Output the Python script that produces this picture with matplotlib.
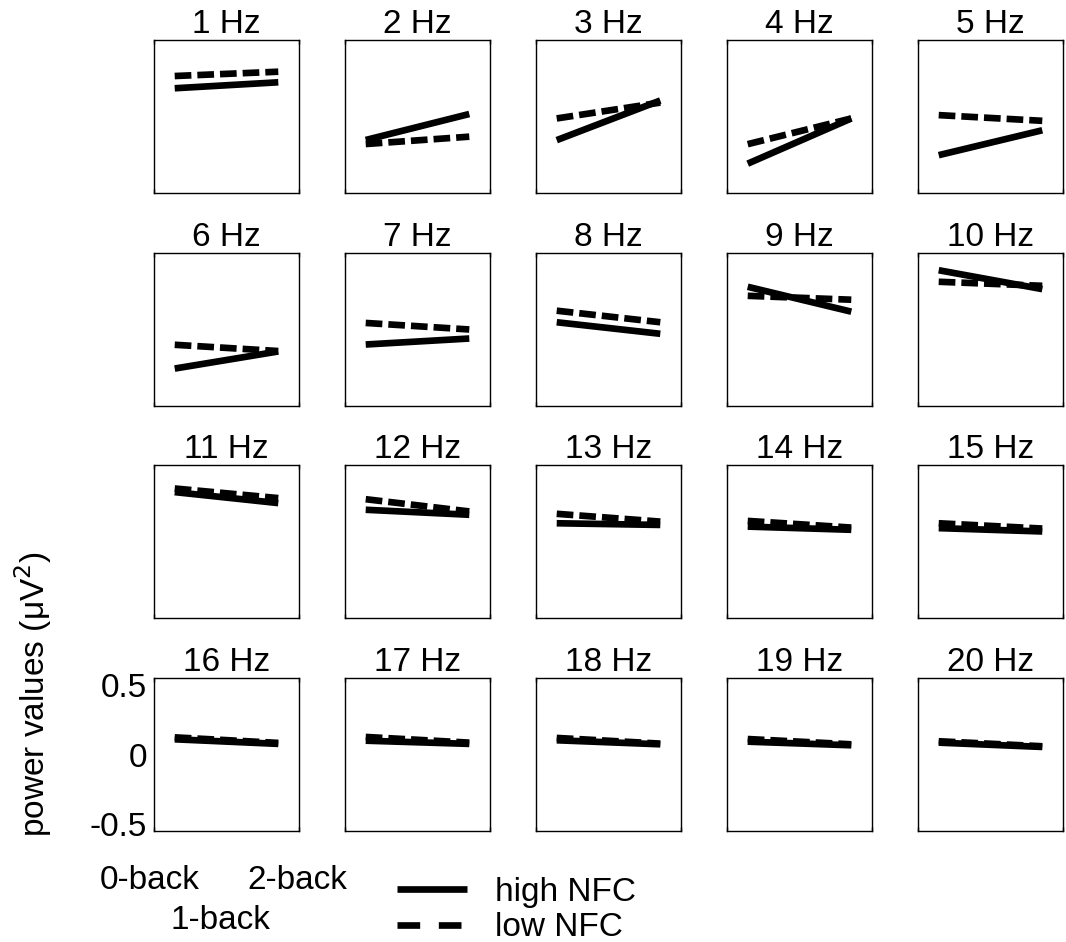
import matplotlib
matplotlib.use("Agg")
import matplotlib.pyplot as plt
from matplotlib.lines import Line2D

plt.rcParams['font.family'] = ['Liberation Sans', 'DejaVu Sans']

# ---------------- data ----------------
freqs = list(range(1, 21))
conditions = ['0-back', '1-back', '2-back']

high_0back = [0.203, -0.169, -0.170, -0.339, -0.278,
              -0.283, -0.110, 0.050, 0.305, 0.424,
              0.358, 0.231, 0.134, 0.110, 0.099,
              0.110, 0.100, 0.103, 0.093, 0.086]
high_2back = [0.246, 0.018, 0.115, -0.014, -0.099,
              -0.160, -0.067, -0.033, 0.126, 0.288,
              0.279, 0.195, 0.122, 0.087, 0.075,
              0.077, 0.077, 0.074, 0.067, 0.055]
low_0back = [0.291, -0.198, -0.014, -0.199, 0.010,
             -0.112, 0.045, 0.133, 0.240, 0.341,
             0.384, 0.307, 0.202, 0.151, 0.134,
             0.124, 0.127, 0.120, 0.112, 0.096]
low_2back = [0.322, -0.145, 0.100, -0.014, -0.031,
             -0.157, -0.002, 0.050, 0.212, 0.312,
             0.315, 0.219, 0.146, 0.103, 0.096,
             0.084, 0.086, 0.079, 0.074, 0.060]

ytick_vals = [-0.5, 0, 0.5]
ytick_labels = ['-0.5', '0', '0.5']
legend_labels = ['high NFC', 'low NFC']

# ---------------- layout ----------------
W, H = 1066, 942
fig = plt.figure(figsize=(W / 100, H / 100), dpi=100)
FS = 24
LW = 4.8
ax_w, ax_h = 145, 153
x_idx = [conditions.index('0-back'), conditions.index('2-back')]

for i, f in enumerate(freqs):
    r, c = divmod(i, 5)
    left = 154 + 191 * c
    top = 40 + 212.7 * r
    ax = fig.add_axes([left / W, 1 - (top + ax_h) / H, ax_w / W, ax_h / H])
    ax.plot(x_idx, [high_0back[i], high_2back[i]], color='black', lw=LW,
            solid_capstyle='butt')
    ax.plot(x_idx, [low_0back[i], low_2back[i]], color='black', lw=LW,
            linestyle=(0, (2.5, 0.9)), dash_capstyle='butt')
    ax.set_xlim(-0.4, 2.4)
    ax.set_ylim(-0.55, 0.55)
    ax.set_title(f'{f} Hz', fontsize=FS, pad=2)
    for s in ax.spines.values():
        s.set_linewidth(1.0)
    ax.set_xticks([-0.4, 2.4])
    ax.tick_params(axis='x', direction='in', length=3, width=1,
                   top=True, labelbottom=False)
    if i == 15:
        ax.set_yticks(ytick_vals)
        ax.set_yticklabels(ytick_labels, fontsize=FS)
        ax.tick_params(axis='y', length=0, pad=5)
    else:
        ax.set_yticks([])

# condition labels under the bottom-left panel
fig.text(150 / W, 1 - 889 / H, conditions[0], fontsize=FS, ha='center', va='baseline')
fig.text(297 / W, 1 - 889 / H, conditions[2], fontsize=FS, ha='center', va='baseline')
fig.text(220 / W, 1 - 929 / H, conditions[1], fontsize=FS, ha='center', va='baseline')

# y label
fig.text(33 / W, 1 - 694 / H, 'power values (μV$^2$)', fontsize=FS, rotation=90,
         ha='center', va='center')

# legend
handles = [Line2D([], [], color='black', lw=LW, solid_capstyle='butt'),
           Line2D([], [], color='black', lw=LW, linestyle=(0, (3.4, 2.8)),
                  dash_capstyle='butt')]
fig.legend(handles, legend_labels, loc='upper left',
           bbox_to_anchor=(397 / W, 1 - 877 / H), frameon=False,
           borderpad=0, borderaxespad=0, handlelength=2.1, handletextpad=0.84,
           labelspacing=0.13, fontsize=FS)

fig.savefig('out.png', dpi=100)
